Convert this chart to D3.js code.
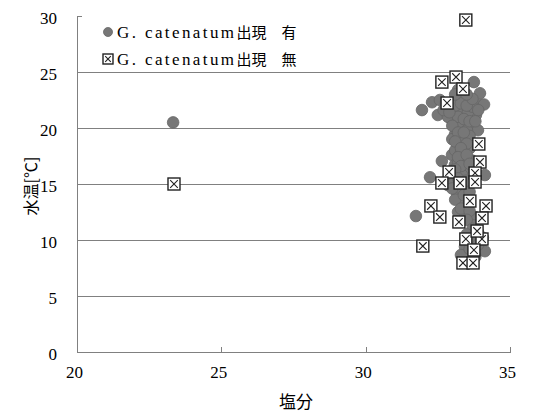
<!DOCTYPE html>
<html><head><meta charset="utf-8">
<script src="https://cdn.jsdelivr.net/npm/d3@7/dist/d3.min.js"></script>
<style>
html,body{margin:0;padding:0;background:#fff;}
svg{display:block;}
.tk{font-family:"Liberation Serif","DejaVu Serif",serif;font-size:17px;fill:#000;}
.jp{font-family:"Noto Sans CJK JP",sans-serif;}
</style></head>
<body>
<svg id="c" width="540" height="412"></svg>
<script>
// Series: G. catenatum present (circles)
const presentSalinity = [33.75,33.96,33.96,33.82,33.61,33.34,33.09,33.27,33.54,32.99,33.44,33.79,32.30,32.57,32.78,32.50,32.85,31.95,33.20,34.10,
  33.09,33.47,33.20,33.61,32.99,33.37,33.68,33.09,33.47,32.64,33.89,33.27,32.92,33.34,33.72,34.13,32.23,32.85,33.54,33.06,
  33.16,33.34,33.51,33.20,33.44,33.79,33.75,33.89,34.06,33.61,33.44,33.72,34.13,33.30,31.74,23.33,33.51,33.00,33.30,33.70,
  33.10,33.30,33.00,33.20,33.40,33.00,33.60,33.30,33.10,
  33.10,33.30,33.50,33.70,33.90,33.20,33.40,33.60,33.00,33.80,32.70,32.90,33.50,33.10,
  33.20,33.40,33.10,33.50,33.30,33.20,33.50,33.30,33.60,33.10,33.20,33.50,33.00,33.40,33.60,
  33.30,33.60,33.50,33.70,33.50,33.90,33.60,33.80];
const presentTemp = [24.1,23.1,22.05,21.16,22.5,22.77,22.5,21.6,21.4,20.7,20.27,20.0,22.3,22.5,22.2,21.16,21.0,21.6,23.4,22.1,
  19.4,19.1,18.5,18.2,17.6,17.3,17.1,16.7,16.4,17.05,19.8,20.3,15.8,15.8,15.5,15.8,15.6,14.9,14.8,15.1,
  14.2,13.3,13.0,12.5,12.4,12.05,11.3,10.7,10.2,10.0,9.4,8.84,9.0,8.66,12.14,20.5,19.8,21.8,23.2,21.9,
  18.0,17.8,16.2,16.9,18.8,19.0,19.3,14.6,13.6,
  22.0,22.2,22.0,22.6,21.6,21.0,20.8,20.6,20.2,20.6,21.6,21.4,23.0,23.0,
  19.6,19.6,18.8,18.6,18.2,17.4,17.6,16.6,16.8,16.3,15.5,15.3,14.6,14.0,14.3,
  12.8,12.6,11.8,11.0,10.5,9.6,9.2,8.5];
// Series: G. catenatum absent (crossed squares)
const absentSalinity = [33.47,23.36,32.64,33.13,33.37,32.82,33.92,33.96,32.89,33.79,32.64,33.27,33.79,33.61,32.26,34.17,32.57,33.23,34.03,33.47,
  34.03,31.98,33.75,33.37,33.72,33.86];
const absentTemp = [29.64,15.0,24.1,24.55,23.48,22.23,18.57,16.96,16.07,15.98,15.09,15.09,15.18,13.48,13.04,13.04,12.05,11.61,11.96,10.09,
  10.09,9.46,9.11,7.95,7.95,10.8];
const xTicks = [20,25,30,35];
const yTicks = [0,5,10,15,20,25,30];
const gridTicks = [5,10,15,20,25];
const legendLabels = ["G. catenatum出現\u3000有","G. catenatum出現\u3000無"];
const xTitle = "塩分";
const yTitle = "水温[℃]";

const svg = d3.select("#c");
const x = d3.scaleLinear().domain([20,35]).range([77,510]);
const y = d3.scaleLinear().domain([0,30]).range([352,16]);
const axisCol = "#808080";

// gridlines
svg.append("g").selectAll("line").data(gridTicks).join("line")
  .attr("x1",x(20)).attr("x2",x(35)).attr("y1",d=>y(d)).attr("y2",d=>y(d))
  .attr("stroke",axisCol).attr("stroke-width",1).attr("shape-rendering","crispEdges");

// axes
const gx = svg.append("g").attr("transform",`translate(0,${y(0)})`)
  .call(d3.axisBottom(x).tickValues(xTicks).tickSizeInner(-5).tickSizeOuter(0).tickPadding(14));
const gy = svg.append("g").attr("transform",`translate(${x(20)},0)`)
  .call(d3.axisLeft(y).tickValues(yTicks).tickSizeInner(-5).tickSizeOuter(0).tickPadding(20));
[gx,gy].forEach(g=>{
  g.select(".domain").attr("stroke",axisCol).attr("shape-rendering","crispEdges");
  g.selectAll(".tick line").attr("stroke",axisCol).attr("shape-rendering","crispEdges");
  g.selectAll(".tick text").attr("class","tk").attr("font-family",null).attr("font-size",null).attr("fill","#000");
});
gx.selectAll(".tick text").attr("dx","-3");
gy.selectAll(".tick text").attr("dy","0.45em");

// circles
const gray = "#777777";
svg.append("g").selectAll("circle").data(presentSalinity.map((s,i)=>[s,presentTemp[i]])).join("circle")
  .attr("cx",d=>x(d[0])).attr("cy",d=>y(d[1])).attr("r",5.8)
  .attr("fill",gray).attr("stroke","#666").attr("stroke-width",0.8);

// squares
function sq(g,s){
  const h=s/2, k=s/2-2.2;
  g.append("rect").attr("x",-h).attr("y",-h).attr("width",s).attr("height",s)
    .attr("fill","#fff").attr("stroke","#222").attr("stroke-width",1.4);
  g.append("path").attr("d",`M${-k},${-k}L${k},${k}M${-k},${k}L${k},${-k}`)
    .attr("stroke","#222").attr("stroke-width",1.1).attr("fill","none");
}
svg.append("g").selectAll("g").data(absentSalinity.map((s,i)=>[s,absentTemp[i]])).join("g")
  .attr("transform",d=>`translate(${x(d[0])},${y(d[1])})`)
  .each(function(){ sq(d3.select(this),12); });

// legend
const lg = svg.append("g");
lg.append("circle").attr("cx",108).attr("cy",32).attr("r",4.5).attr("fill",gray).attr("stroke","#666").attr("stroke-width",0.8);
const s2 = lg.append("g").attr("transform","translate(108,59)"); sq(s2,10);
legendLabels.forEach((t,i)=>{
  const parts = t.split("出現");
  const tx = lg.append("text").attr("x",117).attr("y",38+i*27).attr("font-size","17px");
  tx.append("tspan").attr("font-family","Liberation Serif,serif").attr("letter-spacing","2.4px").text(parts[0]);
  tx.append("tspan").attr("class","jp").attr("font-size","15px").text("出現"+parts[1]);
});

// titles
svg.append("text").attr("class","jp").attr("x",296).attr("y",408).attr("text-anchor","middle")
  .attr("font-size","17px").text(xTitle);
svg.append("text").attr("class","jp").attr("transform","translate(37,186) rotate(-90)").attr("text-anchor","middle")
  .attr("font-size","16px").text(yTitle);
</script>
</body></html>
